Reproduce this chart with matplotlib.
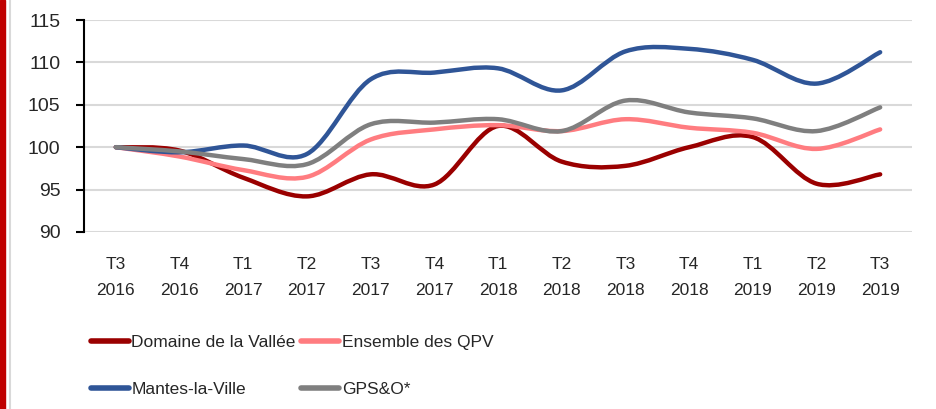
import matplotlib
matplotlib.use("Agg")
import matplotlib.pyplot as plt
from matplotlib.path import Path
from matplotlib.patches import PathPatch, Rectangle
from matplotlib.lines import Line2D

quarters = ["T3\n2016", "T4\n2016", "T1\n2017", "T2\n2017", "T3\n2017", "T4\n2017", "T1\n2018",
            "T2\n2018", "T3\n2018", "T4\n2018", "T1\n2019", "T2\n2019", "T3\n2019"]
domaine = [100, 99.6, 96.4, 94.2, 96.8, 95.6, 102.5, 98.3, 97.8, 100.0, 101.2, 95.7, 96.8]
qpv = [100, 98.9, 97.3, 96.5, 100.9, 102.1, 102.6, 101.9, 103.3, 102.3, 101.7, 99.8, 102.1]
mantes = [100, 99.4, 100.2, 99.2, 108.0, 108.8, 109.3, 106.7, 111.3, 111.6, 110.3, 107.5, 111.2]
gpso = [100, 99.5, 98.6, 98.0, 102.7, 102.9, 103.3, 101.9, 105.5, 104.1, 103.4, 101.9, 104.7]

names = ["Domaine de la Vallée", "Ensemble des QPV", "Mantes-la-Ville", "GPS&O*"]
colors = ["#9a0000", "#ff7c80", "#2f5597", "#7f7f7f"]

font = ["Liberation Sans", "DejaVu Sans"]


def smooth_path(ys):
    # excel-like smoothed line: cubic bezier through each point
    xs = list(range(len(ys)))
    pts = list(zip(xs, ys))
    verts = [pts[0]]
    codes = [Path.MOVETO]
    n = len(pts)
    for i in range(n - 1):
        p0 = pts[max(i - 1, 0)]
        p1 = pts[i]
        p2 = pts[i + 1]
        p3 = pts[min(i + 2, n - 1)]
        c1 = (p1[0] + (p2[0] - p0[0]) / 6, p1[1] + (p2[1] - p0[1]) / 6)
        c2 = (p2[0] - (p3[0] - p1[0]) / 6, p2[1] - (p3[1] - p1[1]) / 6)
        verts += [c1, c2, p2]
        codes += [Path.CURVE4] * 3
    return Path(verts, codes)


fig = plt.figure(figsize=(9.36, 4.09), dpi=100)
ax = fig.add_axes([84 / 936, 1 - 232 / 409, 828 / 936, 212 / 409])

for ys, c in zip([domaine, qpv, mantes, gpso], colors):
    ax.add_patch(PathPatch(smooth_path(ys), facecolor="none", edgecolor=c, lw=3.2,
                           capstyle="round", joinstyle="round", zorder=3))

ax.set_xlim(-0.5, len(quarters) - 0.5)
ax.set_ylim(90, 115)
ax.set_yticks([90, 95, 100, 105, 110, 115])
ax.set_xticks(range(len(quarters)))
ax.set_xticklabels(quarters, family=font, fontsize=12.5, color="#262626", linespacing=1.95)
for t in ax.get_yticklabels():
    t.set_family(font)
    t.set_fontsize(14)
    t.set_color("#262626")

ax.grid(axis="y", color="#d9d9d9", lw=1.5, zorder=0)
ax.set_axisbelow(True)
for s in ["top", "right", "bottom"]:
    ax.spines[s].set_visible(False)
ax.spines["left"].set_color("black")
ax.spines["left"].set_linewidth(1.5)
ax.tick_params(axis="y", direction="out", length=6, width=1.5, pad=11)
ax.tick_params(axis="x", length=0, pad=18)

# legend is filled column by column, so reorder to get row-wise layout
order = [0, 2, 1, 3]
handles = [Line2D([], [], color=colors[i], lw=4, solid_capstyle="round") for i in order]
labels = [names[i] for i in order]
fig.legend(handles, labels, ncol=2, loc="center", bbox_to_anchor=(292 / 936, 1 - 366 / 409),
           frameon=False, prop={"family": font, "size": 12.5}, handlelength=2.2,
           handletextpad=0.15, columnspacing=0.3, labelspacing=1.8, labelcolor="#262626")

# page decoration at the left edge
fig.patches.append(Rectangle((0, 0), 5 / 936, 1, transform=fig.transFigure,
                             color="#c00000", zorder=0))
fig.add_artist(Line2D([10 / 936, 10 / 936], [0, 1], transform=fig.transFigure,
                      color="#d9d9d9", lw=1.5))

fig.savefig("out.png", dpi=100)
